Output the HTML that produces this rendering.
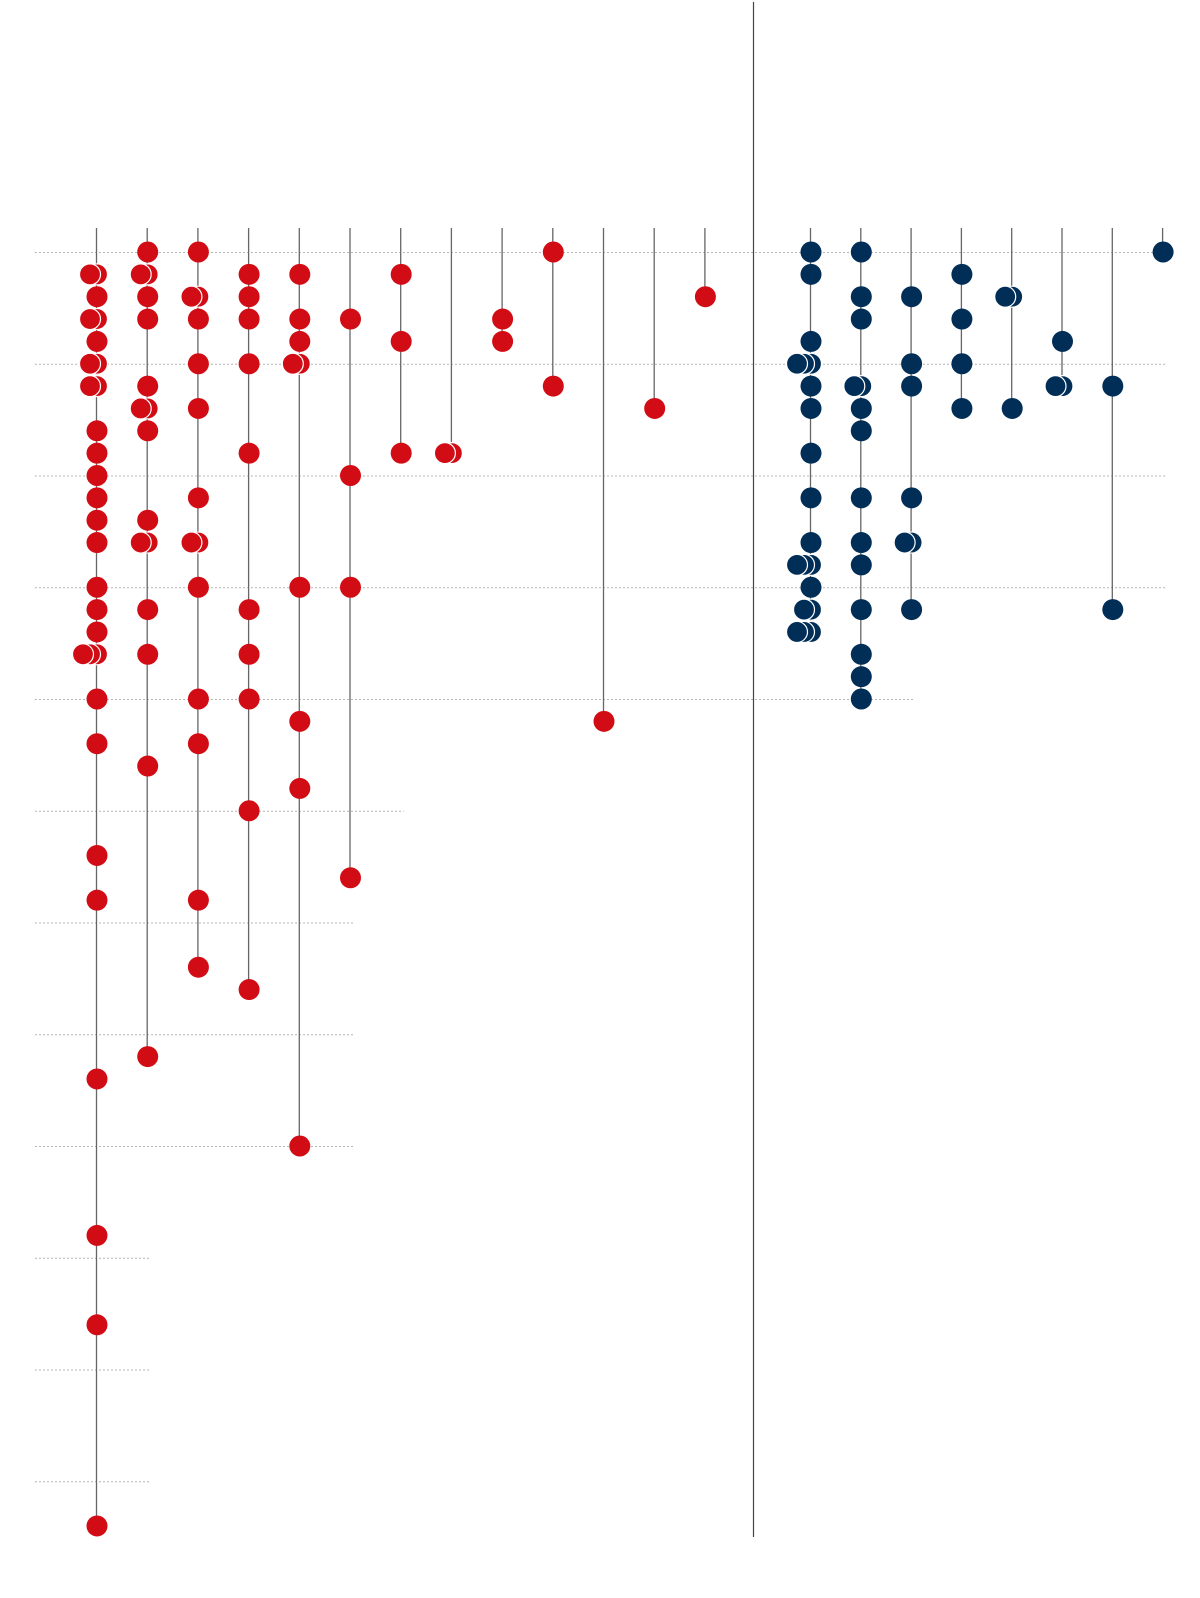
<!DOCTYPE html>
<html><head><meta charset="utf-8"><style>
html,body{margin:0;padding:0;background:#fff;overflow:hidden;width:1200px;height:1598px;}
svg{display:block;position:absolute;left:0;top:0;font-family:"Liberation Sans",sans-serif;}
</style></head><body>
<svg id="chart" width="1200" height="1598">
<g id="grid"></g>
<g id="stems"></g>
<line x1="753.5" y1="2" x2="753.5" y2="1537" stroke="#444" stroke-width="1.2"/>
<g id="dots"></g>
</svg>
<script>
// Red group columns: row indices (repeated = stacked dots)
const redCol1 = [1,1,2,3,3,4,5,5,6,6,8,9,10,11,12,13,15,16,17,18,18,18,20,22,27,29,37,44,48,57];
const redCol2 = [0,1,1,2,3,6,7,7,8,12,13,13,16,18,23,36];
const redCol3 = [0,2,2,3,5,7,11,13,13,15,20,22,29,32];
const redCol4 = [1,2,3,5,9,16,18,20,25,33];
const redCol5 = [1,3,4,5,5,15,21,24,40];
const redCol6 = [3,10,15,28];
const redCol7 = [1,4,9];
const redCol8 = [9,9];
const redCol9 = [3,4];
const redCol10 = [0,6];
const redCol11 = [21];
const redCol12 = [7];
const redCol13 = [2];
// Blue group columns
const blueCol1 = [0,1,4,5,5,5,6,7,9,11,13,14,14,14,15,16,16,17,17,17];
const blueCol2 = [0,2,3,6,6,7,8,11,13,14,16,18,19,20];
const blueCol3 = [2,5,6,11,13,13,16];
const blueCol4 = [1,3,5,7];
const blueCol5 = [2,2,7];
const blueCol6 = [4,6,6];
const blueCol7 = [6,16];
const blueCol8 = [0];
const gridRows = [0,5,10,15,20,25,30,35,40,45,50,55];

const redCols = [redCol1,redCol2,redCol3,redCol4,redCol5,redCol6,redCol7,redCol8,redCol9,redCol10,redCol11,redCol12,redCol13];
const blueCols = [blueCol1,blueCol2,blueCol3,blueCol4,blueCol5,blueCol6,blueCol7,blueCol8];

const NS = "http://www.w3.org/2000/svg";
const yOf = r => 252 + r * 22.35;
const redX = i => 96.5 + i * 50.7;
const blueX = i => 810.5 + i * 50.3;
const RED = "#d20c14", BLUE = "#002e57";

const columns = [];
redCols.forEach((c,i)=>columns.push({x:redX(i), rows:c, color:RED}));
blueCols.forEach((c,i)=>columns.push({x:blueX(i), rows:c, color:BLUE}));
const allX = columns.map(c=>c.x);

const grid = document.getElementById('grid');
gridRows.forEach(r=>{
  let maxIdx = -1;
  columns.forEach((c,i)=>{ if (Math.max(...c.rows) >= r) maxIdx = i; });
  if (maxIdx < 0) return;
  let x2 = (r <= 15) ? 1167 : (maxIdx+1 < allX.length ? allX[maxIdx+1] + 3 : 1167);
  const l = document.createElementNS(NS,'line');
  
  
  l.setAttribute('x1',35); l.setAttribute('x2',x2);
  l.setAttribute('y1',yOf(r)+0.5); l.setAttribute('y2',yOf(r)+0.5);
  l.setAttribute('stroke','#b4b4b4'); l.setAttribute('stroke-width','1');
  l.setAttribute('stroke-dasharray','2,2');
  grid.appendChild(l);
});

const stems = document.getElementById('stems');
const dots = document.getElementById('dots');
columns.forEach(c=>{
  const l = document.createElementNS(NS,'line');
  
  
  l.setAttribute('x1',c.x); l.setAttribute('x2',c.x);
  l.setAttribute('y1',228); l.setAttribute('y2',yOf(Math.max(...c.rows)));
  l.setAttribute('stroke','#666'); l.setAttribute('stroke-width','1.3');
  stems.appendChild(l);
  const counts = {};
  c.rows.forEach(r=>{ counts[r]=(counts[r]||0)+1; });
  Object.keys(counts).forEach(k=>{
    const n = counts[k];
    for (let j=0;j<n;j++){
      const d = document.createElementNS(NS,'circle');
      
      
      d.setAttribute('cx', c.x + 0.5 - j*7);
      d.setAttribute('cy', yOf(+k));
      d.setAttribute('r', 10.5);
      d.setAttribute('fill', c.color);
      d.setAttribute('stroke', n>1 ? '#fff' : 'none');
      d.setAttribute('stroke-width', '1.2');
      dots.appendChild(d);
    }
  });
});
</script>
</body></html>
